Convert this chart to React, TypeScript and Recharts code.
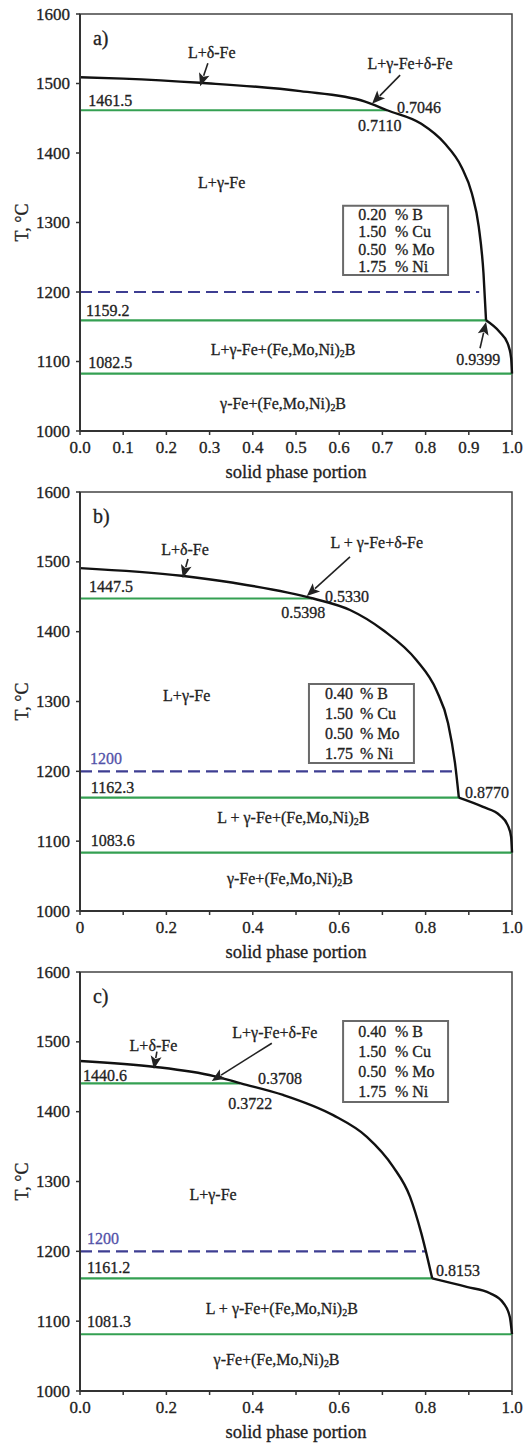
import React from 'react';
import {
  ComposedChart,
  Line,
  XAxis,
  YAxis,
  Scatter,
  ReferenceArea,
  ReferenceLine,
} from 'recharts';

// ---------- shared axis values ----------
const yTicks = [1000, 1100, 1200, 1300, 1400, 1500, 1600];
const xTicks = [0, 0.1, 0.2, 0.3, 0.4, 0.5, 0.6, 0.7, 0.8, 0.9, 1.0];
const xTickLabelsA = ['0.0', '0.1', '0.2', '0.3', '0.4', '0.5', '0.6', '0.7', '0.8', '0.9', '1.0'];
const xTickLabelsB = ['0', '', '0.2', '', '0.4', '', '0.6', '', '0.8', '', '1.0'];
const xTickLabelsC = ['0.0', '', '0.2', '', '0.4', '', '0.6', '', '0.8', '', '1.0'];

// ---------- panel a: 0.20 % B ----------
const curveAUpper = [
  { x: 0, t: 1509 }, { x: 0.1, t: 1507 }, { x: 0.278, t: 1501 }, { x: 0.51, t: 1489 },
  { x: 0.66, t: 1474 }, { x: 0.711, t: 1461.5 }, { x: 0.79, t: 1442 }, { x: 0.844, t: 1414 },
  { x: 0.883, t: 1380 }, { x: 0.907, t: 1342 }, { x: 0.923, t: 1294 }, { x: 0.934, t: 1227 },
  { x: 0.9399, t: 1159.2 },
];
const curveALower = [
  { x: 0.9399, t: 1159.2 }, { x: 0.972, t: 1142 }, { x: 0.99, t: 1126 }, { x: 0.998, t: 1105 },
  { x: 1.0, t: 1082.5 },
];
const isothermsA = [
  { t: 1461.5, xEnd: 0.711 },
  { t: 1159.2, xEnd: 0.942 },
  { t: 1082.5, xEnd: 1.0 },
];
const dashedA = { t: 1200, xEnd: 0.924 };
const compositionA = [
  { value: '0.20', element: '% B' },
  { value: '1.50', element: '% Cu' },
  { value: '0.50', element: '% Mo' },
  { value: '1.75', element: '% Ni' },
];
const boxA = { x1: 0.609, x2: 0.852, tTop: 1324, tBottom: 1224.5, xValue: 0.644, xElement: 0.729 };
const labelsA = [
  { x: 0.305, t: 1545, text: 'L+δ-Fe', anchor: 'middle' },
  { x: 0.764, t: 1529, text: 'L+γ-Fe+δ-Fe', anchor: 'middle' },
  { x: 0.019, t: 1476, text: '1461.5', anchor: 'start' },
  { x: 0.734, t: 1466, text: '0.7046', anchor: 'start' },
  { x: 0.694, t: 1439, text: '0.7110', anchor: 'middle' },
  { x: 0.328, t: 1357, text: 'L+γ-Fe', anchor: 'middle' },
  { x: 0.014, t: 1174, text: '1159.2', anchor: 'start' },
  { x: 0.47, t: 1118, text: 'L+γ-Fe+(Fe,Mo,Ni)₂B', anchor: 'middle' },
  { x: 0.922, t: 1103, text: '0.9399', anchor: 'middle' },
  { x: 0.019, t: 1099, text: '1082.5', anchor: 'start' },
  { x: 0.47, t: 1040, text: 'γ-Fe+(Fe,Mo,Ni)₂B', anchor: 'middle' },
];
const arrowsA = [
  { from: { x: 0.296, t: 1529 }, to: { x: 0.278, t: 1496 } },
  { from: { x: 0.741, t: 1512 }, to: { x: 0.676, t: 1471 } },
  { from: { x: 0.926, t: 1119 }, to: { x: 0.94, t: 1157 } },
];

// ---------- panel b: 0.40 % B ----------
const curveBUpper = [
  { x: 0, t: 1491 }, { x: 0.235, t: 1480 }, { x: 0.355, t: 1470 }, { x: 0.5398, t: 1447.5 },
  { x: 0.625, t: 1431 }, { x: 0.702, t: 1402 }, { x: 0.779, t: 1359 }, { x: 0.825, t: 1316 },
  { x: 0.852, t: 1269 }, { x: 0.868, t: 1212 }, { x: 0.877, t: 1162.3 },
];
const curveBLower = [
  { x: 0.877, t: 1162.3 }, { x: 0.933, t: 1149 }, { x: 0.972, t: 1137 }, { x: 0.99, t: 1123 },
  { x: 0.998, t: 1106 }, { x: 1.0, t: 1083.6 },
];
const isothermsB = [
  { t: 1447.5, xEnd: 0.537 },
  { t: 1162.3, xEnd: 0.879 },
  { t: 1083.6, xEnd: 1.0 },
];
const dashedB = { t: 1200, xEnd: 0.868 };
const compositionB = [
  { value: '0.40', element: '% B' },
  { value: '1.50', element: '% Cu' },
  { value: '0.50', element: '% Mo' },
  { value: '1.75', element: '% Ni' },
];
const boxB = { x1: 0.53, x2: 0.773, tTop: 1325, tBottom: 1212, xValue: 0.567, xElement: 0.648 };
const labelsB = [
  { x: 0.243, t: 1517, text: 'L+δ-Fe', anchor: 'middle' },
  { x: 0.687, t: 1527, text: 'L + γ-Fe+δ-Fe', anchor: 'middle' },
  { x: 0.021, t: 1464, text: '1447.5', anchor: 'start' },
  { x: 0.567, t: 1451, text: '0.5330', anchor: 'start' },
  { x: 0.517, t: 1427, text: '0.5398', anchor: 'middle' },
  { x: 0.247, t: 1309, text: 'L+γ-Fe', anchor: 'middle' },
  { x: 0.023, t: 1219, text: '1200', anchor: 'start', tone: 'blue' },
  { x: 0.025, t: 1177, text: '1162.3', anchor: 'start' },
  { x: 0.891, t: 1170, text: '0.8770', anchor: 'start' },
  { x: 0.494, t: 1134, text: 'L + γ-Fe+(Fe,Mo,Ni)₂B', anchor: 'middle' },
  { x: 0.025, t: 1101, text: '1083.6', anchor: 'start' },
  { x: 0.486, t: 1047, text: 'γ-Fe+(Fe,Mo,Ni)₂B', anchor: 'middle' },
];
const arrowsB = [
  { from: { x: 0.25, t: 1504 }, to: { x: 0.238, t: 1477 } },
  { from: { x: 0.625, t: 1507 }, to: { x: 0.525, t: 1451 } },
];

// ---------- panel c: 0.40 % B ----------
const curveCUpper = [
  { x: 0, t: 1472.5 }, { x: 0.175, t: 1464 }, { x: 0.31, t: 1451 }, { x: 0.3722, t: 1440.6 },
  { x: 0.47, t: 1424 }, { x: 0.586, t: 1395 }, { x: 0.664, t: 1364 }, { x: 0.725, t: 1321 },
  { x: 0.764, t: 1278 }, { x: 0.79, t: 1226 }, { x: 0.8153, t: 1161.2 },
];
const curveCLower = [
  { x: 0.8153, t: 1161.2 }, { x: 0.895, t: 1149 }, { x: 0.949, t: 1140 }, { x: 0.98, t: 1126 },
  { x: 0.995, t: 1106 }, { x: 1.0, t: 1081.3 },
];
const isothermsC = [
  { t: 1440.6, xEnd: 0.37 },
  { t: 1161.2, xEnd: 0.815 },
  { t: 1081.3, xEnd: 1.0 },
];
const dashedC = { t: 1200, xEnd: 0.799 };
const compositionC = [
  { value: '0.40', element: '% B' },
  { value: '1.50', element: '% Cu' },
  { value: '0.50', element: '% Mo' },
  { value: '1.75', element: '% Ni' },
];
const boxC = { x1: 0.609, x2: 0.852, tTop: 1530, tBottom: 1414, xValue: 0.644, xElement: 0.729 };
const labelsC = [
  { x: 0.17, t: 1495, text: 'L+δ-Fe', anchor: 'middle' },
  { x: 0.451, t: 1514, text: 'L+γ-Fe+δ-Fe', anchor: 'middle' },
  { x: 0.007, t: 1452, text: '1440.6', anchor: 'start' },
  { x: 0.412, t: 1448, text: '0.3708', anchor: 'start' },
  { x: 0.394, t: 1412, text: '0.3722', anchor: 'middle' },
  { x: 0.308, t: 1281, text: 'L+γ-Fe', anchor: 'middle' },
  { x: 0.016, t: 1219, text: '1200', anchor: 'start', tone: 'blue' },
  { x: 0.016, t: 1177, text: '1161.2', anchor: 'start' },
  { x: 0.824, t: 1173, text: '0.8153', anchor: 'start' },
  { x: 0.467, t: 1119, text: 'L + γ-Fe+(Fe,Mo,Ni)₂B', anchor: 'middle' },
  { x: 0.016, t: 1099, text: '1081.3', anchor: 'start' },
  { x: 0.455, t: 1046, text: 'γ-Fe+(Fe,Mo,Ni)₂B', anchor: 'middle' },
];
const arrowsC = [
  { from: { x: 0.178, t: 1486 }, to: { x: 0.171, t: 1461 } },
  { from: { x: 0.444, t: 1498 }, to: { x: 0.305, t: 1444 } },
];

// ---------- styling ----------
const FONT = 'Liberation Serif, DejaVu Serif, serif';
const INK = '#222';
const AXIS = '#333';
const GREEN = '#34a052';
const NAVY = '#3e3e92';
const NAVY_TEXT = '#5252a8';
const TEXT_STROKE = 0.3;

// Text with an optional subscript "2" (written as ₂ in the label strings).
const AnnotText = (props: any) => {
  const { cx, cy, payload } = props;
  if (cx == null || cy == null) return <g />;
  const size = payload.size || 16;
  const fill = payload.tone === 'blue' ? NAVY_TEXT : INK;
  const parts = String(payload.text).split('₂');
  return (
    <text
      x={cx}
      y={cy}
      textAnchor={payload.anchor}
      dominantBaseline="central"
      style={{ fontFamily: FONT, fontSize: size }}
      fill={fill}
      stroke={fill}
      strokeWidth={TEXT_STROKE}
    >
      {parts.length === 1
        ? parts[0]
        : [
            <tspan key="a">{parts[0]}</tspan>,
            <tspan key="s" style={{ fontSize: size * 0.62 }} dy={4}>2</tspan>,
            <tspan key="b" dy={-4}>{parts[1]}</tspan>,
          ]}
    </text>
  );
};

// Leader arrow drawn between the two segment endpoints, head at the second point.
const ArrowShape = (p: any) => {
  const { x1, y1, x2, y2 } = p;
  if ([x1, y1, x2, y2].some((v) => v == null || Number.isNaN(v))) return <g />;
  const dx = x2 - x1;
  const dy = y2 - y1;
  const len = Math.hypot(dx, dy) || 1;
  const ux = dx / len;
  const uy = dy / len;
  const hl = 13;
  const hw = 5.5;
  const bx = x2 - ux * hl;
  const by = y2 - uy * hl;
  return (
    <g>
      <line x1={x1} y1={y1} x2={bx + ux * 2} y2={by + uy * 2} stroke={INK} strokeWidth={1.6} />
      <polygon
        points={`${x2},${y2} ${bx - uy * hw},${by + ux * hw} ${bx + ux * 3},${by + uy * 3} ${bx + uy * hw},${by - ux * hw}`}
        fill={INK}
      />
    </g>
  );
};

type PanelProps = {
  letter: string;
  top: number;
  axisHeight: number;
  tickLabels: string[];
  upper: { x: number; t: number }[];
  lower: { x: number; t: number }[];
  isotherms: { t: number; xEnd: number }[];
  dashed: { t: number; xEnd: number };
  composition: { value: string; element: string }[];
  box: { x1: number; x2: number; tTop: number; tBottom: number; xValue: number; xElement: number };
  labels: { x: number; t: number; text: string; anchor: string; tone?: string }[];
  arrows: { from: { x: number; t: number }; to: { x: number; t: number } }[];
};

const Panel = (props: PanelProps) => {
  const { letter, top, axisHeight, tickLabels, upper, lower, isotherms, dashed, composition, box, labels, arrows } = props;

  const rowStep = (box.tTop - box.tBottom) / composition.length;
  const compTexts = composition.flatMap((row, i) => {
    const t = box.tTop - (i + 0.5) * rowStep;
    return [
      { x: box.xValue, t, text: row.value, anchor: 'start' },
      { x: box.xElement, t, text: row.element, anchor: 'start' },
    ];
  });
  const allTexts = [
    { x: 0.03, t: 1566, text: letter, anchor: 'start', size: 20 },
    ...labels,
    ...compTexts,
  ];

  const XTick = (p: any) => {
    const label = tickLabels[p.index] ?? '';
    if (!label) return <g />;
    return (
      <text
        x={p.x}
        y={p.y}
        dy="0.71em"
        textAnchor="middle"
        style={{ fontFamily: FONT, fontSize: 17 }}
        fill={INK}
        stroke={INK}
        strokeWidth={TEXT_STROKE}
      >
        {label}
      </text>
    );
  };

  const YTick = (p: any) => (
    <text
      x={p.x}
      y={p.y}
      textAnchor="end"
      dominantBaseline="central"
      style={{ fontFamily: FONT, fontSize: 17 }}
      fill={INK}
      stroke={INK}
      strokeWidth={TEXT_STROKE}
    >
      {p.payload?.value}
    </text>
  );

  return (
    <div style={{ position: 'absolute', left: 0, top, width: 527, height: 492 }}>
      <ComposedChart
        width={527}
        height={492}
        margin={{ top: 14, right: 15, bottom: 12, left: 0 }}
        style={{ fontFamily: FONT }}
      >
        <XAxis
          type="number"
          dataKey="x"
          domain={[0, 1]}
          ticks={xTicks}
          interval={0}
          height={axisHeight}
          tickSize={4}
          tickMargin={6}
          axisLine={{ stroke: AXIS, strokeWidth: 2 }}
          tickLine={{ stroke: AXIS, strokeWidth: 1.5 }}
          tick={XTick}
          label={{
            content: (lp: any) => {
              const vb = lp.viewBox || {};
              return (
                <text
                  x={(vb.x ?? 80) + (vb.width ?? 432) / 2}
                  y={(vb.y ?? 431) + 41}
                  textAnchor="middle"
                  dominantBaseline="central"
                  style={{ fontFamily: FONT, fontSize: 18.5 }}
                  fill={INK}
                  stroke={INK}
                  strokeWidth={TEXT_STROKE}
                >
                  solid phase portion
                </text>
              );
            },
          }}
        />
        <YAxis
          type="number"
          dataKey="t"
          domain={[1000, 1600]}
          ticks={yTicks}
          interval={0}
          width={80}
          tickSize={4}
          tickMargin={6}
          axisLine={{ stroke: AXIS, strokeWidth: 2 }}
          tickLine={{ stroke: AXIS, strokeWidth: 1.5 }}
          tick={YTick}
          label={{
            content: (lp: any) => {
              const vb = lp.viewBox || {};
              const cx = (vb.x ?? 0) + 22;
              const cy = (vb.y ?? 14) + (vb.height ?? 417) / 2;
              return (
                <text
                  x={cx}
                  y={cy}
                  transform={`rotate(-90 ${cx} ${cy})`}
                  textAnchor="middle"
                  dominantBaseline="central"
                  style={{ fontFamily: FONT, fontSize: 18 }}
                  fill={INK}
                  stroke={INK}
                  strokeWidth={TEXT_STROKE}
                >
                  T, °C
                </text>
              );
            },
          }}
        />

        {/* plot frame */}
        <ReferenceArea x1={0} x2={1} y1={1000} y2={1600} fill="none" stroke="#444" strokeWidth={1.5} />

        {/* composition box */}
        <ReferenceArea
          x1={box.x1}
          x2={box.x2}
          y1={box.tBottom}
          y2={box.tTop}
          fill="#fff"
          fillOpacity={1}
          stroke="#6a6a6a"
          strokeWidth={2}
        />

        {/* isotherms */}
        {isotherms.map((iso, i) => (
          <Line
            key={`iso${i}`}
            data={[{ x: 0, t: iso.t }, { x: iso.xEnd, t: iso.t }]}
            dataKey="t"
            stroke={GREEN}
            strokeWidth={2.2}
            dot={false}
            activeDot={false}
            isAnimationActive={false}
          />
        ))}
        <Line
          data={[{ x: 0, t: dashed.t }, { x: dashed.xEnd, t: dashed.t }]}
          dataKey="t"
          stroke={NAVY}
          strokeWidth={2.2}
          strokeDasharray="12 6"
          dot={false}
          activeDot={false}
          isAnimationActive={false}
        />

        {/* solidification path */}
        <Line
          data={upper}
          dataKey="t"
          type="monotone"
          stroke="#111"
          strokeWidth={2.4}
          dot={false}
          activeDot={false}
          isAnimationActive={false}
        />
        <Line
          data={lower}
          dataKey="t"
          type="monotone"
          stroke="#111"
          strokeWidth={2.4}
          dot={false}
          activeDot={false}
          isAnimationActive={false}
        />

        {arrows.map((a, i) => (
          <ReferenceLine
            key={`arr${i}`}
            segment={[
              { x: a.from.x, y: a.from.t },
              { x: a.to.x, y: a.to.t },
            ]}
            shape={ArrowShape}
          />
        ))}

        <Scatter data={allTexts} dataKey="t" shape={AnnotText} isAnimationActive={false} />
      </ComposedChart>
    </div>
  );
}

export default function App() {
  return (
    <div
      style={{
        position: 'absolute',
        left: 0,
        top: 0,
        width: 527,
        height: 1443,
        background: '#fff',
        fontFamily: FONT,
      }}
    >
      <Panel
        letter="a)"
        top={0}
        axisHeight={49}
        tickLabels={xTickLabelsA}
        upper={curveAUpper}
        lower={curveALower}
        isotherms={isothermsA}
        dashed={dashedA}
        composition={compositionA}
        box={boxA}
        labels={labelsA}
        arrows={arrowsA}
      />
      <Panel
        letter="b)"
        top={478}
        axisHeight={47}
        tickLabels={xTickLabelsB}
        upper={curveBUpper}
        lower={curveBLower}
        isotherms={isothermsB}
        dashed={dashedB}
        composition={compositionB}
        box={boxB}
        labels={labelsB}
        arrows={arrowsB}
      />
      <Panel
        letter="c)"
        top={958}
        axisHeight={47}
        tickLabels={xTickLabelsC}
        upper={curveCUpper}
        lower={curveCLower}
        isotherms={isothermsC}
        dashed={dashedC}
        composition={compositionC}
        box={boxC}
        labels={labelsC}
        arrows={arrowsC}
      />
    </div>
  );
}
